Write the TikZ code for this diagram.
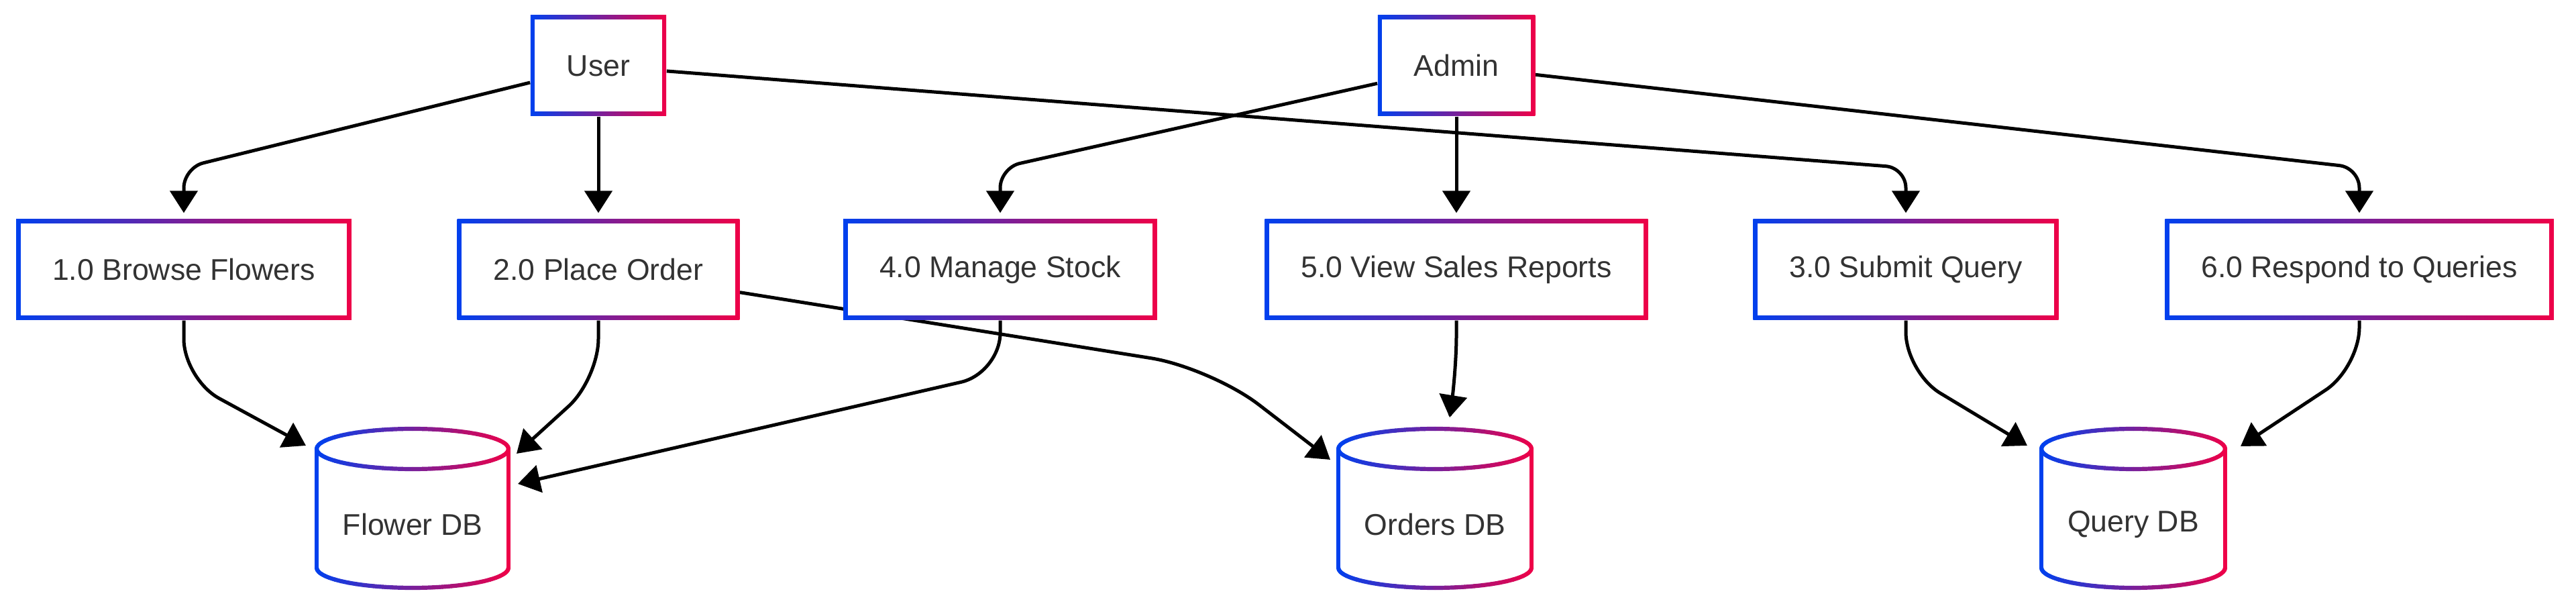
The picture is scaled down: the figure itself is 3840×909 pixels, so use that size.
\documentclass[tikz,border=0pt]{standalone}
\usepackage{fontspec}
\newfontfamily\dfdfont{Liberation Sans}
\usetikzlibrary{arrows.meta}

\definecolor{gblue}{RGB}{0,64,238}
\definecolor{gred}{RGB}{238,0,72}
\definecolor{txt}{RGB}{51,51,51}

\pgfdeclarelayer{back}
\pgfdeclarelayer{wires}
\pgfsetlayers{back,wires,main}

\tikzset{
  proc/.style={rectangle,left color=gblue,right color=gred,
    minimum height=15mm,inner xsep=5.4mm,text=txt,
    font=\dfdfont\fontsize{12.7}{15}\selectfont,
    path picture={\fill[white]
      ([shift={(0.65mm,-0.65mm)}]path picture bounding box.north west) rectangle
      ([shift={(-0.65mm,0.65mm)}]path picture bounding box.south east);}},
  dblabel/.style={text=txt,font=\dfdfont\fontsize{12.7}{15}\selectfont},
  dbline/.style={line width=0.62mm,line cap=round},
  flow/.style={-{Triangle[length=3.3mm,width=4.1mm]},line width=0.5mm,rounded corners=3mm},
  tobox/.style={flow,shorten >=0.9mm},
  tostore/.style={flow,rounded corners=6mm}
}

% gradient outline of a data store: centre x, top ellipse y, x radius, y radius
\newcommand{\dbcyl}[4]{%
  \foreach \a in {0,6,...,354}{
    \pgfmathtruncatemacro{\mix}{50*(1+cos(\a+3))}
    \draw[dbline,draw=gred!\mix!gblue] ({#1+#3*cos(\a)},{#2+#4*sin(\a)})
      arc[start angle=\a,end angle=\a+6,x radius=#3,y radius=#4];
  }
  \foreach \a in {180,186,...,354}{
    \pgfmathtruncatemacro{\mix}{50*(1+cos(\a+3))}
    \draw[dbline,draw=gred!\mix!gblue] ({#1+#3*cos(\a)},{#2-177+#4*sin(\a)})
      arc[start angle=\a,end angle=\a+6,x radius=#3,y radius=#4];
  }
  \draw[dbline,draw=gblue] ({#1-#3},#2) -- ({#1-#3},{#2-177});
  \draw[dbline,draw=gred] ({#1+#3},#2) -- ({#1+#3},{#2-177});
}

\begin{document}
\begin{tikzpicture}[x=0.1mm,y=0.1mm]
\useasboundingbox (0,0) rectangle (3840,-909);
\begin{pgfonlayer}{back}
\fill[white] (0,0) rectangle (3840,-909);
\end{pgfonlayer}

% external entities
\node[proc] (user) at (892,-98) {User};
\node[proc] (admin) at (2171,-98) {Admin};

% processes
\node[proc] (browse) at (274,-402) {1.0 Browse Flowers};
\node[proc] (order) at (892,-402) {2.0 Place Order};
\node[proc] (stock) at (1491,-402) {4.0 Manage Stock};
\node[proc] (sales) at (2171,-402) {5.0 View Sales Reports};
\node[proc] (query) at (2841,-402) {3.0 Submit Query};
\node[proc] (reply) at (3517,-402) {6.0 Respond to Queries};

% data stores
\dbcyl{615}{-669}{143}{30}
\dbcyl{2139}{-669}{144}{30}
\dbcyl{3180}{-669}{137}{30}
\node[dblabel] (flowerdb) at (615,-782) {Flower DB};
\node[dblabel] (ordersdb) at (2139,-782) {Orders DB};
\node[dblabel] (querydb) at (3180,-782) {Query DB};
\coordinate (flowerdb-a) at (456,-664);
\coordinate (flowerdb-b) at (770,-676);
\coordinate (flowerdb-c) at (772,-721);
\coordinate (ordersdb-a) at (1983,-685);
\coordinate (ordersdb-b) at (2161,-622);
\coordinate (querydb-a) at (3022,-664);
\coordinate (querydb-b) at (3340,-665);

\begin{pgfonlayer}{wires}
\draw[tobox] (user) -- (274,-250) -- (browse);
\draw[tobox] (user) -- (order);
\draw[tobox] (user) -- (2841,-250) -- (query);
\draw[tobox] (admin) -- (1491,-250) -- (stock);
\draw[tobox] (admin) -- (sales);
\draw[tobox] (admin) -- (3517,-250) -- (reply);

\draw[tostore] (browse) -- (274,-565) -- (flowerdb-a);
\draw[tostore] (order) -- (892,-565) -- (flowerdb-b);
\draw[tostore] (stock) -- (1491,-556) -- (flowerdb-c);
\draw[tostore,rounded corners=9mm] (order) -- (1805,-548) -- (ordersdb-a);
\draw[tostore] (sales) -- (2171,-560) -- (ordersdb-b);
\draw[tostore] (query) -- (2841,-555) -- (querydb-a);
\draw[tostore] (reply) -- (3517,-548) -- (querydb-b);
\end{pgfonlayer}
\end{tikzpicture}
\end{document}
